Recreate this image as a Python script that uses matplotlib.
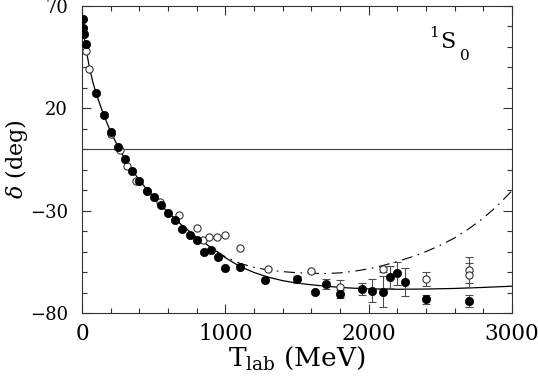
import numpy as np
import matplotlib
matplotlib.use("Agg")
import matplotlib.pyplot as plt
from matplotlib.ticker import MultipleLocator, FixedLocator

plt.rcParams['font.family'] = ['DejaVu Serif']
plt.rcParams['mathtext.fontset'] = 'dejavuserif'

# filled points (T_lab MeV, delta deg, error)
t_full = [5, 10, 15, 25, 100, 150, 200, 250, 300, 350, 400, 450, 500, 550,
          600, 650, 700, 750, 800, 850, 900, 950, 1000, 1100, 1275, 1500,
          1625, 1700, 1800, 1950, 2025, 2100, 2150, 2200, 2250, 2400, 2700]
d_full = [63.5, 59.4, 56.2, 51.6, 27.5, 16.8, 8.4, 1.3, -4.9, -10.4, -15.4,
          -20.3, -23.3, -27.2, -31.3, -34.5, -38.8, -41.9, -44.3, -50.0,
          -49.2, -52.5, -57.8, -57.7, -63.9, -63.6, -69.6, -65.9, -70.8,
          -68.4, -69.1, -69.6, -62.4, -60.6, -64.8, -73.4, -74.1]
e_full = [0, 0, 0, 0, 0, 0, 0, 0, 0, 0, 0, 0, 0, 0, 0, 0, 0, 0, 0, 0, 0, 0,
          0, 0, 0, 1.5, 0, 2.3, 2.0, 3.0, 5.7, 7.6, 5.6, 5.7, 6.8, 2.2, 3.0]

# open points
t_open = [30, 50, 200, 262, 312, 375, 450, 542, 675, 802, 842, 885, 940,
          1000, 1100, 1300, 1600, 1800, 2100, 2400, 2700, 2700]
d_open = [48.2, 39.2, 7.3, -0.2, -8.1, -15.5, -20.5, -25.6, -32.2, -38.6,
          -44.3, -42.7, -43.0, -41.9, -48.0, -58.6, -59.3, -67.1, -58.6,
          -63.5, -59.0, -61.5]
e_open = [0, 0, 0, 0, 0, 0, 0, 0, 0, 0, 0, 0, 0, 0, 0, 0, 0, 3.4, 1.2, 3.5,
          6.3, 5.7]

# solid curve
t_sol = [3, 10, 20, 30, 50, 75, 100, 150, 200, 250, 300, 400, 500, 600, 700,
         800, 900, 1000, 1100, 1200, 1300, 1400, 1500, 1600, 1700, 1800,
         1900, 2000, 2200, 2400, 2600, 2800, 3000]
d_sol = [63, 57, 52.5, 48.5, 40.5, 33, 27, 17, 8.5, 1.5, -4.8, -15.2, -23.6,
         -30.8, -37.3, -43, -48, -53, -57.2, -60.2, -62.5, -64.2, -65.4,
         -66.2, -66.9, -67.5, -67.9, -68.2, -68.4, -68.3, -68.0, -67.5, -66.9]

# dash-dot curve
t_dd = [800, 900, 1000, 1100, 1200, 1300, 1400, 1500, 1600, 1700, 1800,
        1900, 2000, 2100, 2200, 2300, 2400, 2500, 2600, 2700, 2800, 2900, 3000]
d_dd = [-43, -48, -52.6, -55.7, -57.7, -59, -59.8, -60.3, -60.6, -60.7,
        -60.4, -59.6, -58.4, -56.8, -54.8, -52.6, -50.0, -46.9, -43.3, -38.8,
        -33.6, -27.5, -20.2]

y_major = [-80, -30, 20, 70]

fig = plt.figure(figsize=(5.38, 3.81), dpi=100)
ax = fig.add_axes([82/538, 1-313/381, 430/538, 307/381])

ax.axhline(0, color='0.25', lw=0.8, zorder=1)
ax.plot(t_sol, d_sol, color='black', lw=0.9, zorder=2)
ax.plot(t_dd, d_dd, color='black', lw=0.8, dashes=(10, 5, 1.5, 5), zorder=2)

t_o = np.array(t_open); d_o = np.array(d_open); e_o = np.array(e_open)
m = e_o > 0
ax.errorbar(t_o[m], d_o[m], yerr=e_o[m], fmt='none', ecolor='0.3',
            elinewidth=0.8, capsize=2.8, capthick=0.8, zorder=3)
t_f = np.array(t_full); d_f = np.array(d_full); e_f = np.array(e_full)
m = e_f > 0
ax.errorbar(t_f[m], d_f[m], yerr=e_f[m], fmt='none', ecolor='0.3',
            elinewidth=0.8, capsize=2.8, capthick=0.8, zorder=3)

ax.plot(t_open, d_open, 'o', ms=5.2, mfc='white', mec='0.2', mew=0.8,
        ls='none', zorder=4)
ax.plot(t_full, d_full, 'o', ms=6, mfc='black', mec='black', mew=0.5,
        ls='none', zorder=5)

ax.set_xlim(0, 3000)
ax.set_ylim(-80, 70)
ax.xaxis.set_major_locator(MultipleLocator(1000))
ax.xaxis.set_minor_locator(MultipleLocator(200))
ax.yaxis.set_major_locator(FixedLocator(y_major))
ax.yaxis.set_minor_locator(MultipleLocator(10))
ax.tick_params(which='both', direction='in', top=True, right=True,
               width=0.8, color='0.2')
ax.tick_params(which='major', length=6.5)
ax.tick_params(which='minor', length=3.6)
ax.tick_params(axis='x', labelsize=15.5, pad=7)
ax.tick_params(axis='y', labelsize=13, pad=10)
for s in ax.spines.values():
    s.set_linewidth(0.8)
    s.set_color('0.2')

ax.set_xlabel(r'T$_{\rm lab}$ (MeV)', fontsize=19, labelpad=0)
ax.set_ylabel(r'$\delta$ (deg)', fontsize=16)
ax.yaxis.set_label_coords(-0.122, 0.5)

ax.text(2490, 54.9, '1', ha='right', va='baseline', fontsize=11)
ax.text(2498, 49.5, 'S', ha='left', va='baseline', fontsize=16)
ax.text(2637, 43.6, '0', ha='left', va='baseline', fontsize=11)

fig.savefig('out.png', dpi=100)
